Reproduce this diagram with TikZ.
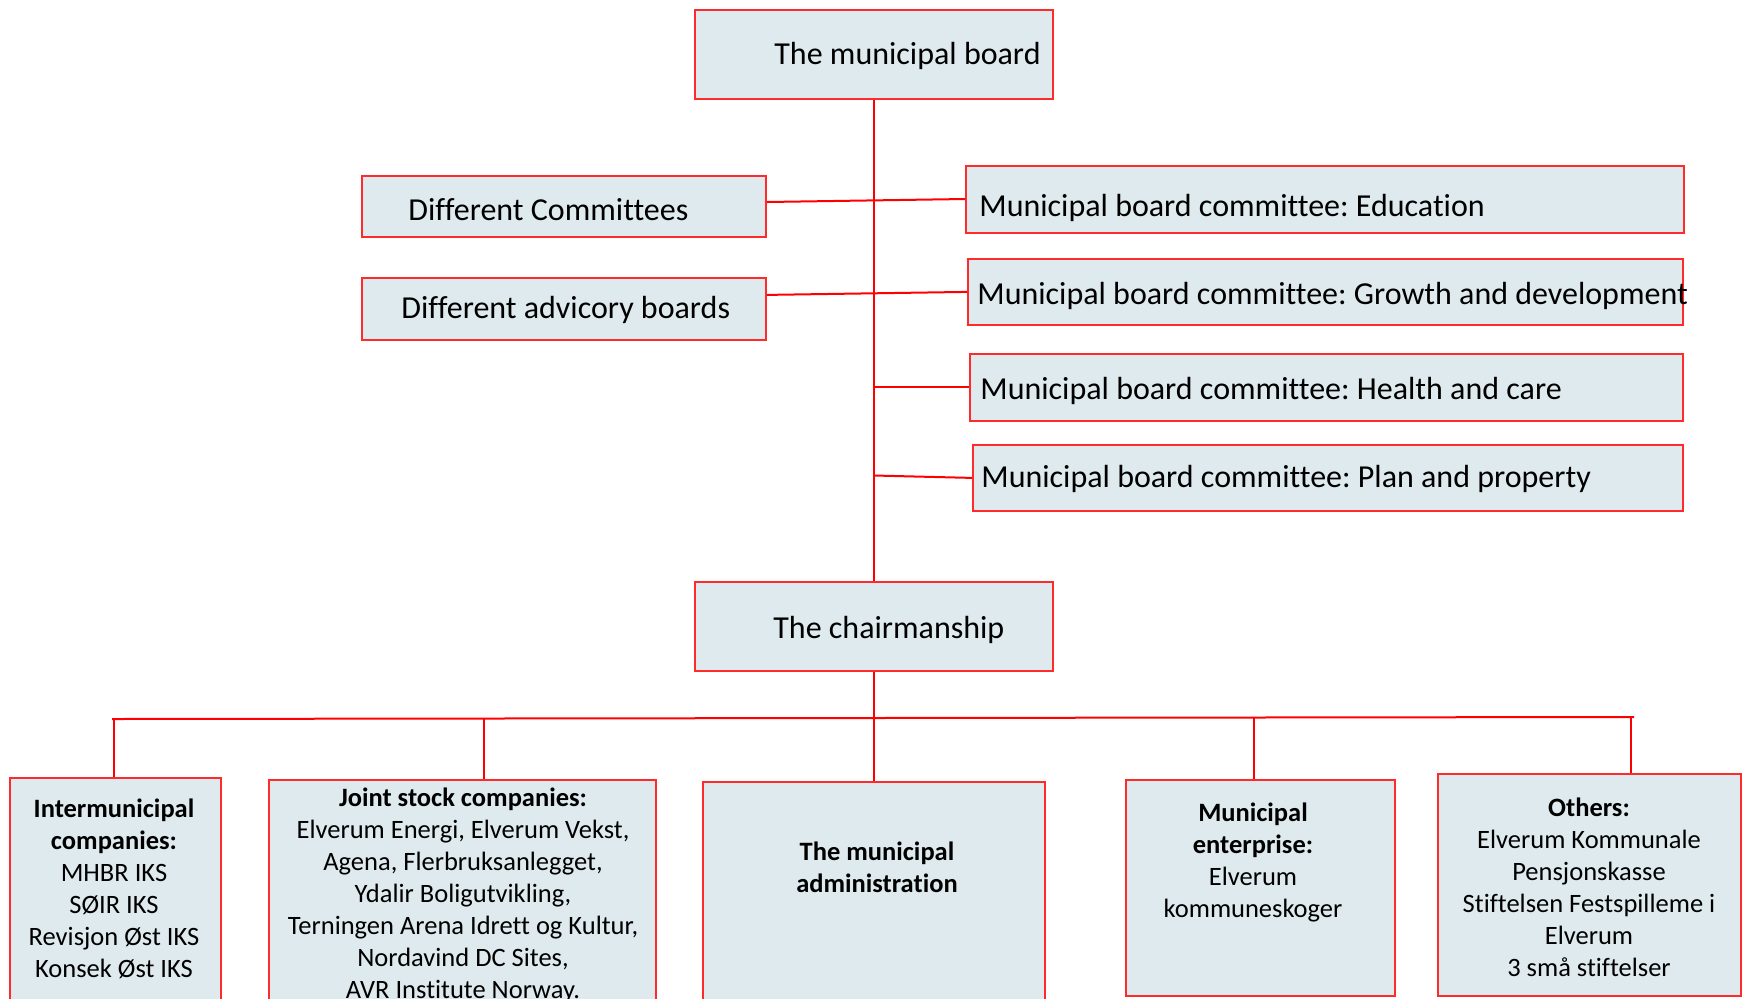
\documentclass[tikz,border=0pt]{standalone}
\usepackage{fontspec}
\setmainfont[Ligatures=CommonOff]{Carlito}
\frenchspacing
\definecolor{boxfill}{HTML}{DEEAEE}
\definecolor{boxline}{HTML}{FF2A2A}
\definecolor{linkred}{HTML}{FF0000}
\tikzset{
  box/.style={draw=boxline, fill=boxfill, line width=0.9pt, rectangle, inner sep=0pt, anchor=north west},
  conn/.style={draw=linkred, line width=1pt},
  bigtext/.style={font=\fontsize{16}{19.5}\selectfont, inner sep=0pt, anchor=base west},
  smalltext/.style={font=\fontsize{13.25}{16}\selectfont, inner sep=0pt, align=center, anchor=north},
}
\begin{document}
\begin{tikzpicture}[x=0.5pt,y=-0.5pt]
\useasboundingbox (0,0) rectangle (1746,998);
\clip (0,0) rectangle (1746,998);
% boxes
\node[box, minimum width=179pt, minimum height=44.5pt] (mb) at (694,9) {};
\node[box, minimum width=202pt, minimum height=30.5pt] (dc) at (361,175) {};
\node[box, minimum width=202pt, minimum height=31pt] (da) at (361,277) {};
\node[box, minimum width=359pt, minimum height=33.5pt] (ed) at (965,165) {};
\node[box, minimum width=357.5pt, minimum height=33pt] (gr) at (967,258) {};
\node[box, minimum width=356.5pt, minimum height=33.5pt] (he) at (969,353) {};
\node[box, minimum width=355pt, minimum height=33pt] (pl) at (972,444) {};
\node[box, minimum width=179pt, minimum height=44.5pt] (ch) at (694,581) {};
\node[box, minimum width=105.5pt, minimum height=130pt] (im) at (9,777) {};
\node[box, minimum width=193.5pt, minimum height=130pt] (js) at (268,779) {};
\node[box, minimum width=171pt, minimum height=130pt] (ad) at (702,781) {};
\node[box, minimum width=134.5pt, minimum height=108pt] (en) at (1125,779) {};
\node[box, minimum width=151.5pt, minimum height=111pt] (ot) at (1437,773) {};
% texts
\node[bigtext] (mbt) at (774,64) {The municipal board};
\node[bigtext] (dct) at (408,220) {Different Committees};
\node[bigtext] (dat) at (401,318) {Different advicory boards};
\node[bigtext] (edt) at (979,216) {Municipal board committee: Education};
\node[bigtext] (grt) at (977,304) {Municipal board committee: Growth and development};
\node[bigtext] (het) at (980,399) {Municipal board committee: Health and care};
\node[bigtext] (plt) at (981,487) {Municipal board committee: Plan and property};
\node[bigtext] (cht) at (773,638) {The chairmanship};
\node[smalltext] (imt) at (114,798) {\textbf{Intermunicipal}\\\textbf{companies:}\\MHBR IKS\\SØIR IKS\\Revisjon Øst IKS\\Konsek Øst IKS};
\node[smalltext] (jst) at (463,787) {\textbf{Joint stock companies:}\\Elverum Energi, Elverum Vekst,\\Agena, Flerbruksanlegget,\\Ydalir Boligutvikling,\\Terningen Arena Idrett og Kultur,\\Nordavind DC Sites,\\AVR Institute Norway.};
\node[smalltext] (adt) at (877,841) {\textbf{The municipal}\\\textbf{administration}};
\node[smalltext] (ent) at (1253,802) {\textbf{Municipal}\\\textbf{enterprise:}\\Elverum\\kommuneskoger};
\node[smalltext] (ott) at (1589,797) {\textbf{Others:}\\Elverum Kommunale\\Pensjonskasse\\Stiftelsen Festspilleme i\\Elverum\\3 små stiftelser};
% connectors
\draw[conn] (mb.south) -- (ch.north);
\draw[conn] ([yshift=2.2pt]dc.east) -- ([yshift=0.2pt]ed.west);
\draw[conn] ([yshift=7pt]da.east) -- (gr.west);
\draw[conn] (he.west -| mb.south) -- (he.west);
\draw[conn] ([yshift=1.2pt]pl.west -| mb.south) -- (pl.west);
\coordinate (busL) at (112,719);
\coordinate (busR) at (1634,717);
\draw[conn] (busL) -- (busR);
\draw[conn] (ch.south) -- (ad.north);
\coordinate (dIM) at (114,719);
\coordinate (dJS) at (484,719);
\coordinate (dEN) at (1254,718);
\coordinate (dOT) at (1631,717);
\draw[conn] (dIM) -- (dIM |- im.north);
\draw[conn] (dJS) -- (dJS |- js.north);
\draw[conn] (dEN) -- (dEN |- en.north);
\draw[conn] (dOT) -- (dOT |- ot.north);
\end{tikzpicture}
\end{document}
